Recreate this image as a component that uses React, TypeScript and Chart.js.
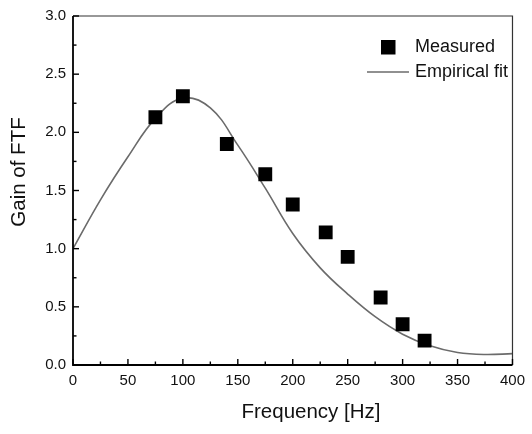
import { useEffect, useRef } from "react";
import { Chart, registerables } from "chart.js";

Chart.register(...registerables);

// ---- data ----
const measuredFreq = [75, 100, 140, 175, 200, 230, 250, 280, 300, 320];
const measuredGain = [2.13, 2.31, 1.9, 1.64, 1.38, 1.14, 0.93, 0.58, 0.35, 0.21];

const fitFreq = [0, 25, 50, 75, 100, 125, 150, 175, 200, 225, 250, 275, 300, 325, 350, 375, 400];
const fitGain = [1.0, 1.42, 1.79, 2.12, 2.295, 2.21, 1.89, 1.52, 1.13, 0.835, 0.61, 0.415, 0.265, 0.165, 0.107, 0.09, 0.098];

const xMajorTicks = [0, 50, 100, 150, 200, 250, 300, 350, 400];
const xMinorTicks = [25, 75, 125, 175, 225, 275, 325, 375];
const yMajorTicks = [0, 0.5, 1.0, 1.5, 2.0, 2.5, 3.0];
const yMinorTicks = [0.25, 0.75, 1.25, 1.75, 2.25, 2.75];

const xTitle = "Frequency [Hz]";
const yTitle = "Gain of FTF";
const measuredLabel = "Measured";
const fitLabel = "Empirical fit";

const FONT = "Arial, 'Liberation Sans', sans-serif";
const TEXT = "#111111";
const FIT_COLOR = "#6b6b6b";

const framePlugin = {
  id: "frameAndTicks",
  afterDraw(chart: any) {
    const { ctx, chartArea, scales } = chart;
    const { left, right, top, bottom } = chartArea;
    const xs = scales.x;
    const ys = scales.y;
    ctx.save();
    // frame
    ctx.strokeStyle = "#333333";
    ctx.lineWidth = 1.2;
    ctx.beginPath();
    ctx.moveTo(left, top);
    ctx.lineTo(right, top);
    ctx.lineTo(right, bottom);
    ctx.stroke();
    ctx.strokeStyle = "#000000";
    ctx.lineWidth = 1.8;
    ctx.beginPath();
    ctx.moveTo(left, top);
    ctx.lineTo(left, bottom);
    ctx.lineTo(right, bottom);
    ctx.stroke();
    // ticks (inward)
    ctx.lineWidth = 1.4;
    const drawX = (vals: number[], len: number) => {
      vals.forEach((v) => {
        const px = xs.getPixelForValue(v);
        ctx.beginPath();
        ctx.moveTo(px, bottom);
        ctx.lineTo(px, bottom - len);
        ctx.stroke();
      });
    };
    const drawY = (vals: number[], len: number) => {
      vals.forEach((v) => {
        const py = ys.getPixelForValue(v);
        ctx.beginPath();
        ctx.moveTo(left, py);
        ctx.lineTo(left + len, py);
        ctx.stroke();
      });
    };
    drawX(xMajorTicks, 6);
    drawX(xMinorTicks, 3.5);
    drawY(yMajorTicks, 6);
    drawY(yMinorTicks, 3.5);

    // axis titles
    ctx.fillStyle = TEXT;
    ctx.font = `20.5px ${FONT}`;
    ctx.textAlign = "center";
    ctx.textBaseline = "middle";
    ctx.fillText(xTitle, 311, 412);
    ctx.save();
    ctx.translate(19, 172);
    ctx.rotate(-Math.PI / 2);
    ctx.fillText(yTitle, 0, 0);
    ctx.restore();

    // legend
    const ds = chart.data.datasets;
    ctx.font = `18px ${FONT}`;
    ctx.textAlign = "left";
    ctx.textBaseline = "middle";
    ctx.fillStyle = "#000000";
    ctx.fillRect(381, 40, 14.5, 14.5);
    ctx.fillStyle = TEXT;
    ctx.fillText(ds[0].label, 415, 47);
    ctx.strokeStyle = FIT_COLOR;
    ctx.lineWidth = 1.6;
    ctx.beginPath();
    ctx.moveTo(367, 72);
    ctx.lineTo(409, 72);
    ctx.stroke();
    ctx.fillText(ds[1].label, 415, 72);
    ctx.restore();
  },
};

export default function App() {
  const ref = useRef<HTMLCanvasElement | null>(null);

  useEffect(() => {
    document.body.style.margin = "0";
    if (!ref.current) return;
    const chart = new Chart(ref.current, {
      type: "scatter",
      data: {
        datasets: [
          {
            label: measuredLabel,
            data: measuredFreq.map((f, i) => ({ x: f, y: measuredGain[i] })),
            pointStyle: "rect",
            pointRadius: 9.8,
            pointHoverRadius: 9.8,
            backgroundColor: "#000000",
            borderColor: "#000000",
            borderWidth: 0,
            showLine: false,
            order: 0,
          },
          {
            type: "line",
            label: fitLabel,
            data: fitFreq.map((f, i) => ({ x: f, y: fitGain[i] })),
            borderColor: FIT_COLOR,
            borderWidth: 1.6,
            pointRadius: 0,
            fill: false,
            tension: 0.4,
            order: 1,
          } as any,
        ],
      },
      options: {
        responsive: false,
        animation: false,
        layout: { padding: { top: 16, right: 13, left: 0, bottom: 0 } },
        plugins: {
          legend: { display: false },
          tooltip: { enabled: false },
        },
        scales: {
          x: {
            type: "linear",
            min: 0,
            max: 400,
            grid: { display: false, drawTicks: false },
            border: { display: false },
            ticks: {
              stepSize: 50,
              padding: 7,
              color: TEXT,
              font: { family: FONT, size: 15 },
              maxRotation: 0,
            },
            afterFit: (s: any) => {
              s.height = 69;
            },
          },
          y: {
            type: "linear",
            min: 0,
            max: 3,
            grid: { display: false, drawTicks: false },
            border: { display: false },
            ticks: {
              stepSize: 0.5,
              padding: 7,
              color: TEXT,
              font: { family: FONT, size: 15 },
              callback: (v: any) => Number(v).toFixed(1),
            },
            afterFit: (s: any) => {
              s.width = 73;
            },
          },
        },
      },
      plugins: [framePlugin],
    });
    return () => chart.destroy();
  }, []);

  return (
    <div style={{ position: "fixed", left: 0, top: 0, width: 532, height: 434, background: "#fff" }}>
      <canvas ref={ref} width={532} height={434} />
    </div>
  );
}
